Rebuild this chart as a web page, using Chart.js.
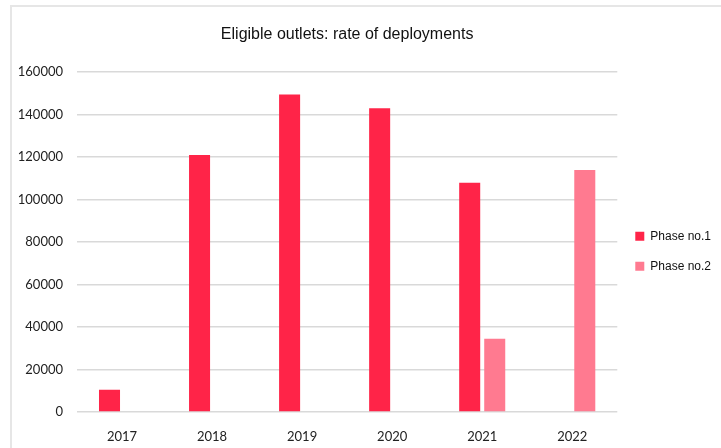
<!DOCTYPE html>
<html>
<head>
<meta charset="utf-8">
<script src="https://cdn.jsdelivr.net/npm/chart.js@4/dist/chart.umd.min.js"></script>
<style>
  body { margin: 0; background: #fff; }
  #frame { position: absolute; left: 10px; top: 5px; width: 720px; height: 441px;
           border-left: 2px solid #e6e6e6; border-top: 2px solid #e6e6e6; }
  #chart { position: absolute; left: 0; top: 0; }
</style>
</head>
<body>
<div id="frame"></div>
<canvas id="chart" width="721" height="448"></canvas>
<script>
const years = ["2017", "2018", "2019", "2020", "2021", "2022"];
const phase1 = [10500, 121000, 149500, 143000, 108000, null];
const phase2 = [null, null, null, null, 34500, 114000];
const yTicks = [0, 20000, 40000, 60000, 80000, 100000, 120000, 140000, 160000];

const tickFont = { family: "Lato", size: 13 };

new Chart(document.getElementById("chart"), {
  type: 'bar',
  data: {
    labels: years,
    datasets: [
      { label: 'Phase no.1', data: phase1, backgroundColor: '#ff2448' },
      { label: 'Phase no.2', data: phase2, backgroundColor: '#ff7a90' }
    ]
  },
  options: {
    responsive: false,
    animation: false,
    categoryPercentage: 0.556,
    barPercentage: 0.84,
    scales: {
      x: {
        grid: { display: false },
        border: { display: false },
        afterFit: (axis) => { axis.height = 36; },
        ticks: { color: '#222', font: tickFont, padding: 9, maxRotation: 0 }
      },
      y: {
        min: 0,
        max: 160000,
        afterBuildTicks: (axis) => { axis.ticks = yTicks.map(v => ({ value: v })); },
        afterFit: (axis) => { axis.width = 77; },
        grid: { color: '#d9d9d9', lineWidth: 1.5, drawTicks: false },
        border: { display: false },
        ticks: { color: '#222', font: tickFont, padding: 14, callback: (v) => String(v) }
      }
    },
    plugins: {
      title: {
        display: true,
        fullSize: false,
        text: 'Eligible outlets: rate of deployments',
        color: '#111',
        font: { family: "Liberation Sans", size: 16, weight: 'normal' },
        padding: { top: 25, bottom: 28 }
      },
      legend: {
        position: 'right',
        // empty legend title just nudges the items down a bit
        title: { display: true, text: '', padding: { top: 20, bottom: 20 } },
        labels: {
          color: '#111',
          font: { family: "Liberation Sans", size: 12 },
          boxWidth: 9,
          boxHeight: 9,
          padding: 18
        }
      },
      tooltip: { enabled: false }
    }
  }
});
</script>
</body>
</html>
